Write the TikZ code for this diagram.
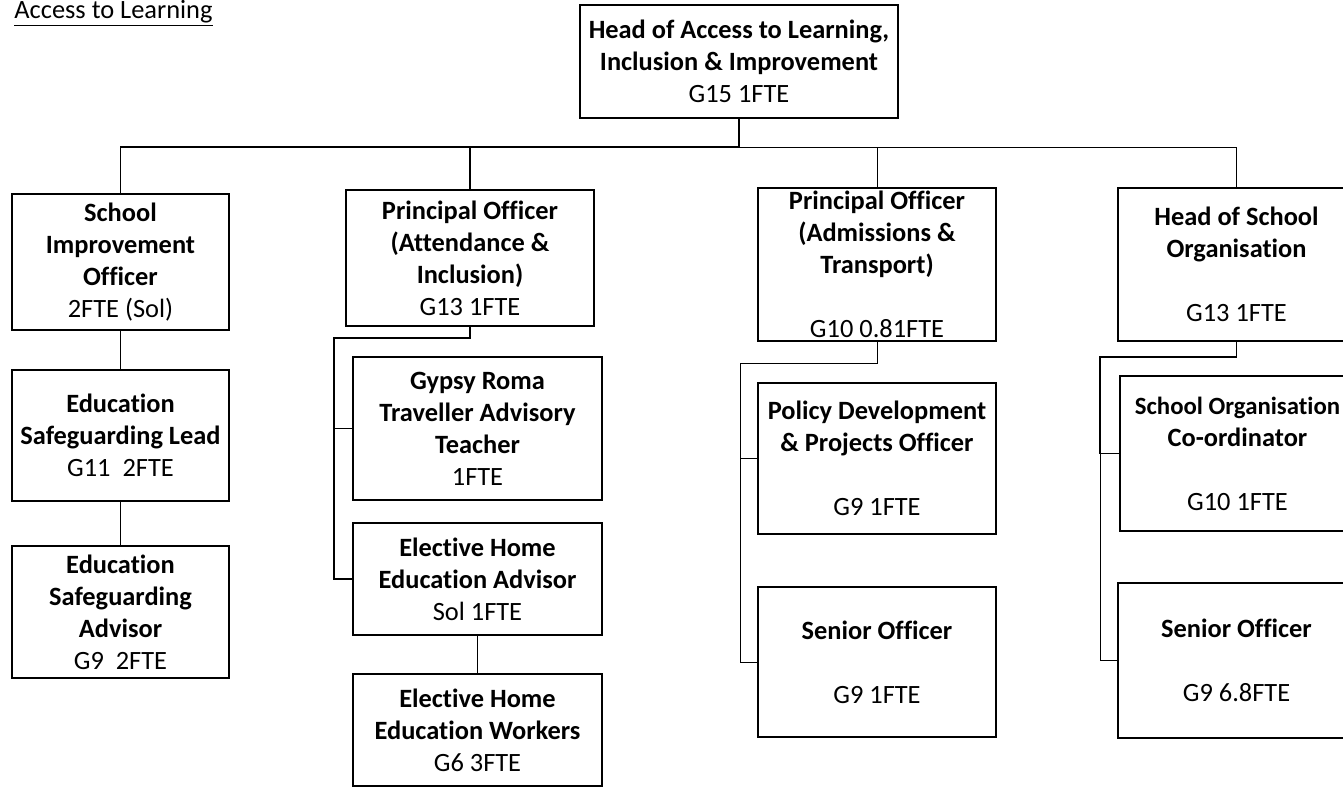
\documentclass[tikz,border=0pt]{standalone}
\usepackage{fontspec}
\setmainfont{Carlito}[Ligatures=NoCommon]
\usepackage{tikz}

\begin{document}
\begin{tikzpicture}[x=0.5pt,y=-0.5pt,
  main node/.style={draw,rectangle,line width=0.8pt,inner sep=0pt,align=center,
    font=\fontsize{13.2}{16}\selectfont},
  thick line/.style={line width=0.9pt},
  thin line/.style={line width=0.5pt}]

  \useasboundingbox (0,0) rectangle (1343,788);
  \clip (0,0) rectangle (1343,788);

  \node[anchor=base west,inner sep=0pt,font=\fontsize{13.2}{16}\selectfont] (title) at (14,18) {\underline{Access to Learning}};

  \node[main node,minimum width=159pt,minimum height=56.5pt] (head) at (739,61.5)
    {\textbf{Head of Access to Learning,}\\\textbf{Inclusion \& Improvement}\\G15 1FTE};

  % first row
  \node[main node,minimum width=108.5pt,minimum height=68pt] (sio) at (120.5,262)
    {\textbf{School}\\\textbf{Improvement}\\\textbf{Officer}\\2FTE (Sol)};
  \node[main node,minimum width=124pt,minimum height=68pt] (att) at (470,258)
    {\textbf{Principal Officer}\\\textbf{(Attendance \&}\\\textbf{Inclusion)}\\G13 1FTE};
  \node[main node,minimum width=119pt,minimum height=76.5pt] (adm) at (877,264.5)
    {\textbf{Principal Officer}\\\textbf{(Admissions \&}\\\textbf{Transport)}\\[16pt]G10 0.81FTE};
  \node[main node,minimum width=118.5pt,minimum height=76.5pt] (hso) at (1236.5,264.5)
    {\textbf{Head of School}\\\textbf{Organisation}\\[16pt]G13 1FTE};

  % left column
  \node[main node,minimum width=108.5pt,minimum height=65.5pt] (esl) at (120.5,435.5)
    {\textbf{Education}\\\textbf{Safeguarding Lead}\\G11\ \ 2FTE};
  \node[main node,minimum width=108.5pt,minimum height=66pt] (esa) at (120.5,612)
    {\textbf{Education}\\\textbf{Safeguarding}\\\textbf{Advisor}\\G9\ \ 2FTE};

  % attendance column
  \node[main node,minimum width=124.5pt,minimum height=71.5pt] (grt) at (477.5,428.5)
    {\textbf{Gypsy Roma}\\\textbf{Traveller Advisory}\\\textbf{Teacher}\\1FTE};
  \node[main node,minimum width=124.5pt,minimum height=56pt] (ehea) at (477.5,579)
    {\textbf{Elective Home}\\\textbf{Education Advisor}\\Sol 1FTE};
  \node[main node,minimum width=124.5pt,minimum height=56pt] (ehew) at (477.5,730)
    {\textbf{Elective Home}\\\textbf{Education Workers}\\G6 3FTE};

  % admissions column
  \node[main node,minimum width=119pt,minimum height=75.5pt] (pdp) at (877,458.5)
    {\textbf{Policy Development}\\\textbf{\& Projects Officer}\\[16pt]G9 1FTE};
  \node[main node,minimum width=119pt,minimum height=75pt] (so3) at (877,662)
    {\textbf{Senior Officer}\\[16pt]G9 1FTE};

  % school organisation column
  \node[main node,minimum width=117.5pt,minimum height=77.5pt] (soc) at (1237.5,453.5)
    {\fontsize{12.4}{16}\selectfont\textbf{School Organisation}\\\textbf{Co-ordinator}\\[16pt]G10 1FTE};
  \node[main node,minimum width=118.5pt,minimum height=77.5pt] (so4) at (1236.5,660.5)
    {\textbf{Senior Officer}\\[16pt]G9 6.8FTE};

  \coordinate (bus) at (739,147);
  \coordinate (attbend) at (334,338);
  \coordinate (admbend) at (740,363);
  \coordinate (hsobend) at (1100,357);

  \draw[thick line] (head) -- (bus);
  \draw[thick line] (bus) -| (sio);
  \draw[thick line] (bus) -| (att);
  \draw[thin line] (bus) -| (adm);
  \draw[thin line] (bus) -| (hso);

  \draw[thick line] (sio) -- (esl);
  \draw[thick line] (esl) -- (esa);

  \draw[thick line] (att.south) |- (attbend) |- (grt.west);
  \draw[thick line] (attbend) |- (ehea.west);
  \draw[thick line] (ehea) -- (ehew);

  \draw[thin line] (adm.south) |- (admbend) |- (pdp.west);
  \draw[thin line] (admbend) |- (so3.west);

  \draw[thick line] (hso.south) |- (hsobend) |- (soc.west);
  \draw[thin line] (hsobend) |- (so4.west);
\end{tikzpicture}
\end{document}
